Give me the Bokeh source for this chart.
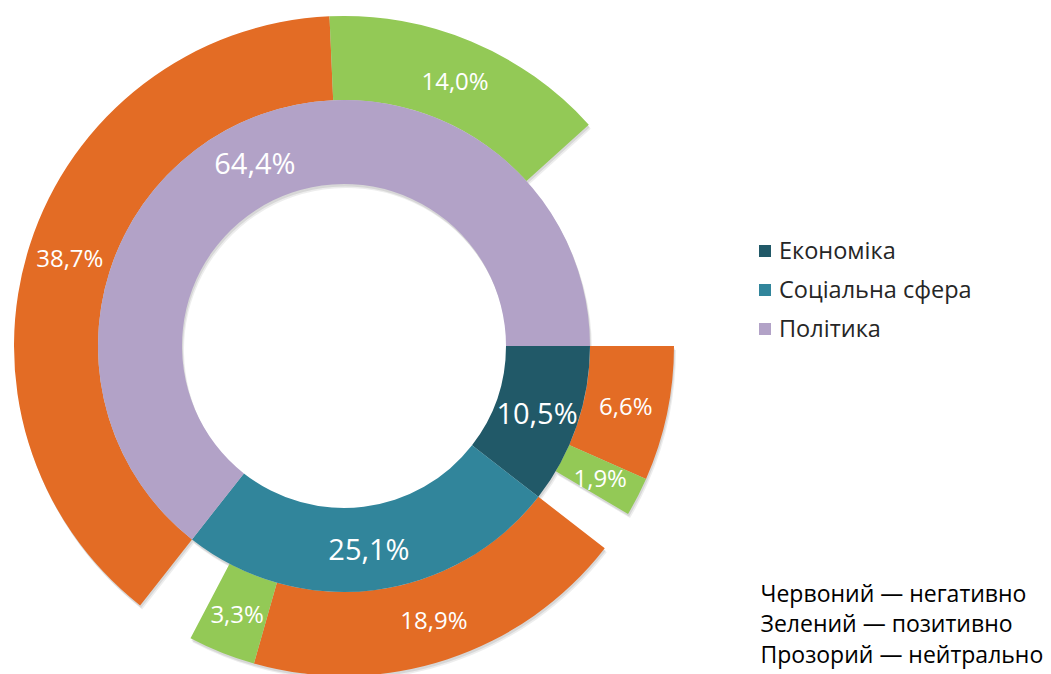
import numpy as np
from bokeh.plotting import figure
from bokeh.models import ColumnDataSource, Range1d, Legend, LegendItem, Label
from bokeh.core.properties import value
from bokeh.embed import file_html
from bokeh.resources import INLINE

# ---------------- data ----------------
categories = ["Економіка", "Соціальна сфера", "Політика"]
shares = [10.5, 25.1, 64.4]          # inner ring, %
negative = [6.6, 18.9, 38.7]         # outer ring, red/orange
positive = [1.9, 3.3, 14.0]          # outer ring, green
neutral = [2.0, 2.9, 11.7]           # outer ring, transparent
notes = ["Червоний — негативно", "Зелений — позитивно", "Прозорий — нейтрально"]

# ---------------- style ----------------
cat_colors = ["#215968", "#31859B", "#B2A2C7"]
neg_color, pos_color = "#E36C25", "#93C956"
FONT = "Open Sans"
W, H = 1051, 674
CX, CY = 343.5, 328.5
R0, R1, R2 = 162, 246, 330
SHADOWS = [(2, -4, 0.07), (1, -2.5, 0.09)]


def fmt(v):
    return f"{v:.1f}".replace(".", ",") + "%"


def rad(p):
    return np.asarray(p, dtype=float) / 100.0 * 2 * np.pi


# inner ring
ends = np.cumsum(shares)
starts = ends - np.asarray(shares)
mid = -(rad(starts) + rad(ends)) / 2
rm = (R0 + R1) / 2
inner = ColumnDataSource(dict(
    start=-rad(ends), end=-rad(starts), color=cat_colors,
    label=[fmt(v) for v in shares], cat=categories,
    lx=CX + rm * np.cos(mid), ly=CY + rm * np.sin(mid),
))

# outer ring
o_vals, o_cols, o_alpha = [], [], []
for n, p_, z in zip(negative, positive, neutral):
    o_vals += [n, p_, z]
    o_cols += [neg_color, pos_color, "#FFFFFF"]
    o_alpha += [1.0, 1.0, 0.0]
o_ends = np.cumsum(o_vals)
o_starts = o_ends - np.asarray(o_vals)
o_mid = -(rad(o_starts) + rad(o_ends)) / 2
rmo = (R1 + R2) / 2
o_labels = [fmt(v) if a > 0 else "" for v, a in zip(o_vals, o_alpha)]
odata = dict(
    start=-rad(o_ends), end=-rad(o_starts), color=o_cols, alpha=o_alpha,
    label=o_labels,
    lx=CX + rmo * np.cos(o_mid), ly=CY + rmo * np.sin(o_mid),
)
for k, (_, _, a) in enumerate(SHADOWS):
    odata[f"sa{k}"] = [v * a for v in o_alpha]
outer = ColumnDataSource(odata)

p = figure(width=W, height=H, output_backend="svg", toolbar_location=None,
           x_range=Range1d(0, W), y_range=Range1d(0, H), min_border=0)
p.axis.visible = False
p.grid.visible = False
p.outline_line_color = None
p.background_fill_color = "white"

# soft shadows
for k, (dx, dy, a) in enumerate(SHADOWS):
    p.annular_wedge(x=CX + dx, y=CY + dy, inner_radius=R1, outer_radius=R2,
                    start_angle="start", end_angle="end", source=outer,
                    fill_color="black", fill_alpha=f"sa{k}", line_color=None)
    p.annular_wedge(x=CX + dx, y=CY + dy, inner_radius=R0, outer_radius=R1,
                    start_angle="start", end_angle="end", source=inner,
                    fill_color="black", fill_alpha=a, line_color=None)

p.annular_wedge(x=CX, y=CY, inner_radius=R1, outer_radius=R2,
                start_angle="start", end_angle="end", source=outer,
                fill_color="color", fill_alpha="alpha", line_color=None)
inner_r = p.annular_wedge(x=CX, y=CY, inner_radius=R0, outer_radius=R1,
                          start_angle="start", end_angle="end", source=inner,
                          fill_color="color", line_color=None)

p.text(x="lx", y="ly", text="label", source=inner, text_color="white",
       text_font=value(FONT), text_font_size="29px",
       text_align="center", text_baseline="middle")
p.text(x="lx", y="ly", text="label", source=outer, text_color="white",
       text_font=value(FONT), text_font_size="24px",
       text_align="center", text_baseline="middle")

legend = Legend(items=[LegendItem(label=c, renderers=[inner_r], index=i)
                       for i, c in enumerate(categories)],
                location=(757, 330), orientation="vertical",
                glyph_width=15, glyph_height=15, label_standoff=7,
                label_text_font=FONT, label_text_font_size="23.5px",
                label_text_color="#262626", label_height=25, spacing=7,
                padding=0, margin=0, border_line_alpha=0,
                background_fill_alpha=0)
p.add_layout(legend, "center")

for i, t in enumerate(notes):
    p.add_layout(Label(x=760, y=82 - 30.5 * i, text=t, text_font=FONT,
                       text_font_size="23px", text_color="black",
                       text_baseline="middle"))

open("out.html", "w").write(file_html(p, INLINE))
